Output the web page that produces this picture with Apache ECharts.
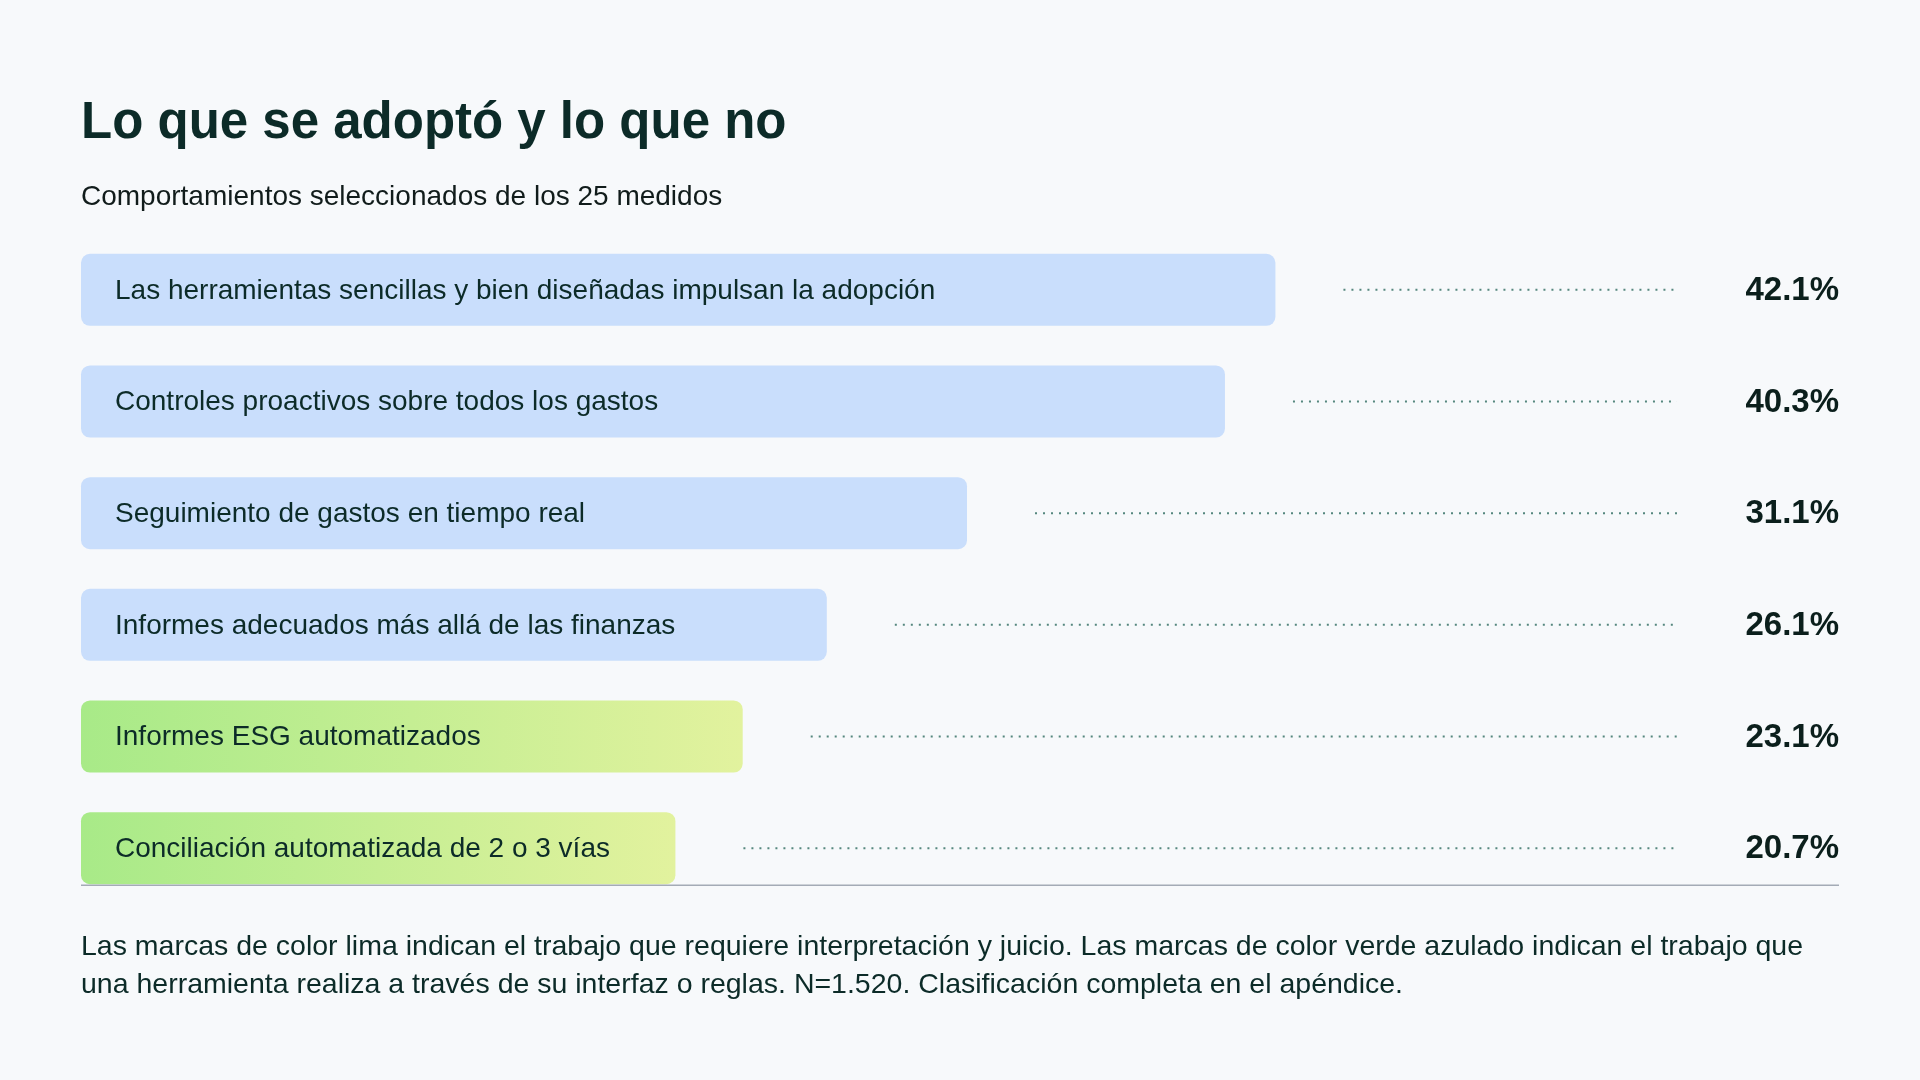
<!DOCTYPE html>
<html>

<head>
    <meta charset="utf-8">
    <title>Lo que se adoptó y lo que no</title>
    <script src="https://cdn.jsdelivr.net/npm/echarts@6/dist/echarts.min.js"></script>
    <style>
        html, body { margin: 0; padding: 0; background: #f7f9fb; }
        #chart { width: 1920px; height: 1080px; }
    </style>
</head>

<body>
    <div id="chart"></div>

    <script type="text/javascript">
        // data
        var categories = [
            'Las herramientas sencillas y bien diseñadas impulsan la adopción',
            'Controles proactivos sobre todos los gastos',
            'Seguimiento de gastos en tiempo real',
            'Informes adecuados más allá de las finanzas',
            'Informes ESG automatizados',
            'Conciliación automatizada de 2 o 3 vías'
        ];
        var values = [42.1, 40.3, 31.1, 26.1, 23.1, 20.7];
        // 'tool' = teal marks (blue bars), 'judgement' = lime marks
        var kinds = ['tool', 'tool', 'tool', 'tool', 'judgement', 'judgement'];

        var titleText = 'Lo que se adoptó y lo que no';
        var subtitleText = 'Comportamientos seleccionados de los 25 medidos';
        var noteText = 'Las marcas de color lima indican el trabajo que requiere interpretación y juicio. Las marcas de color verde azulado indican el trabajo que\n' +
            'una herramienta realiza a través de su interfaz o reglas. N=1.520. Clasificación completa en el apéndice.';

        var FONT = '"Liberation Sans", Arial, Helvetica, sans-serif';
        var INK = '#0c2b28';

        function barFill(kind) {
            if (kind === 'judgement') {
                return new echarts.graphic.LinearGradient(0, 0, 1, 0, [
                    { offset: 0, color: '#a8ea88' },
                    { offset: 1, color: '#e2f29e' }
                ]);
            }
            return '#c9defc';
        }

        function renderRow(params, api) {
            var idx = api.value(1);
            var val = api.value(0);
            var cs = params.coordSys;
            var end = api.coord([val, idx]);
            var bandH = api.size([0, 1])[1];
            var h = bandH * 0.645;
            var cy = end[1];
            var x0 = cs.x;
            var right = cs.x + cs.width;

            var children = [
                {
                    type: 'rect',
                    shape: { x: x0, y: cy - h / 2, width: end[0] - x0, height: h, r: 9 },
                    style: { fill: barFill(kinds[idx]) }
                },
                {
                    type: 'text',
                    style: {
                        x: x0 + 34, y: cy + 1, text: categories[idx],
                        font: 'normal 28px ' + FONT, fill: INK,
                        verticalAlign: 'middle', align: 'left'
                    }
                },
                {
                    type: 'line',
                    shape: { x1: end[0] + 68, y1: cy, x2: right - 162, y2: cy },
                    style: { stroke: '#55877e', lineWidth: 2, lineDash: [2, 6] }
                },
                {
                    type: 'text',
                    style: {
                        x: right, y: cy + 1, text: val.toFixed(1) + '%',
                        font: 'bold 33px ' + FONT, fill: '#0b1f1c',
                        verticalAlign: 'middle', align: 'right'
                    }
                }
            ];

            // baseline under the last row
            if (idx === values.length - 1) {
                children.push({
                    type: 'line',
                    shape: { x1: x0, y1: cy + h / 2 + 1, x2: right, y2: cy + h / 2 + 1 },
                    style: { stroke: '#a4abb6', lineWidth: 1.5 }
                });
            }
            return { type: 'group', children: children };
        }

        var seriesData = values.map(function (v, i) { return [v, i]; });

        var myChart = echarts.init(document.getElementById('chart'), null, { renderer: 'canvas' });

        myChart.setOption({
            backgroundColor: '#f7f9fb',
            animation: false,
            grid: { left: 81, right: 81, top: 234, height: 670 },
            xAxis: {
                type: 'value', min: -0.5, max: 62.2,
                show: false
            },
            yAxis: {
                type: 'category', data: categories, inverse: true,
                show: false
            },
            graphic: [
                {
                    type: 'text', left: 81, top: 98,
                    style: { text: titleText, font: 'bold 51px ' + FONT, fill: INK }
                },
                {
                    type: 'text', left: 81, top: 183,
                    style: { text: subtitleText, font: 'normal 28px ' + FONT, fill: '#111c1b' }
                },
                {
                    type: 'text', left: 81, top: 928,
                    style: { text: noteText, font: 'normal 28.5px ' + FONT, fill: INK, lineHeight: 38 }
                }
            ],
            series: [{
                type: 'custom',
                renderItem: renderRow,
                encode: { x: 0, y: 1 },
                data: seriesData
            }]
        });
    </script>
</body>

</html>
